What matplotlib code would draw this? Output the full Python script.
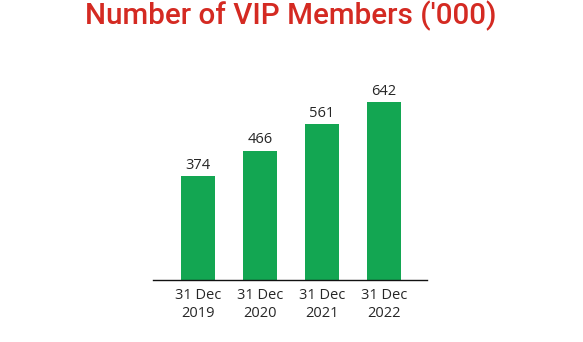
import matplotlib
matplotlib.use("Agg")
import matplotlib.pyplot as plt

# VIP membership at each year end, in thousands
periodes = ["31 Dec\n2019", "31 Dec\n2020", "31 Dec\n2021", "31 Dec\n2022"]
membres = [374, 466, 561, 642]

VERT = "#13a652"
ROUGE = "#d42a22"
TEXTE = "#262626"

fig = plt.figure(figsize=(5.83, 3.42), dpi=100)
ax = fig.add_axes([153 / 583, 62 / 342, 274 / 583, 200 / 342])

x = range(len(membres))
ax.bar(x, membres, width=0.55, color=VERT, zorder=2)

for xi, v in zip(x, membres):
    ax.annotate(f"{v}", xy=(xi, v), xytext=(0, 2.5), textcoords="offset points",
                ha="center", va="bottom", fontsize=10.5, color=TEXTE,
                family="Open Sans")

ax.set_xlim(-0.72, 3.69)
ax.set_ylim(0, 642 * 200 / 178)
ax.set_xticks(list(x))
ax.set_xticklabels(periodes, fontsize=10.5, color=TEXTE, family="Open Sans",
                   linespacing=1.2)
ax.tick_params(axis="x", length=0, pad=6)
ax.set_yticks([])

for cote in ["top", "right", "left"]:
    ax.spines[cote].set_visible(False)
ax.spines["bottom"].set_color("#111111")
ax.spines["bottom"].set_linewidth(1.0)

fig.text(291 / 583, 1 - 16 / 342, "Number of VIP Members ('000)",
         ha="center", va="center", fontsize=21.3, color=ROUGE,
         family="Roboto", fontweight="medium")

fig.savefig("out.png", dpi=100)
